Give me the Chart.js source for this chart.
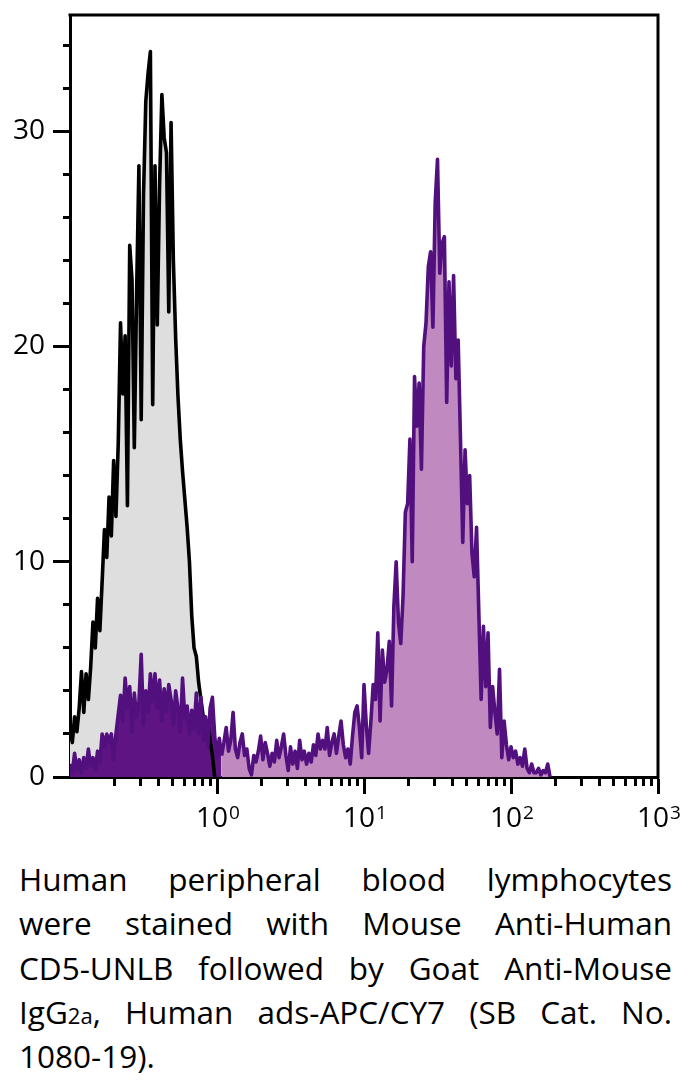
<!DOCTYPE html>
<html>
<head>
<meta charset="utf-8">
<script src="https://cdn.jsdelivr.net/npm/chart.js@4/dist/chart.umd.min.js"></script>
<style>
  html, body { margin: 0; padding: 0; background: #fff; }
  #wrap { position: relative; width: 686px; height: 1089px; overflow: hidden; }
  #c { position: absolute; left: 0; top: 0; }
  #caption {
    position: absolute; left: 19px; top: 857px; width: 653px;
    font-family: 'Open Sans', sans-serif; font-size: 31.5px; line-height: 44.3px; color: #000;
  }
  #caption .j { text-align: justify; text-align-last: justify; }
  #caption .l { text-align: left; }
  #caption .sm { font-size: 0.7em; line-height: 1; }
</style>
</head>
<body>
<div id="wrap">
  <canvas id="c" width="686" height="840"></canvas>
  <div id="caption">
    <div class="j">Human peripheral blood lymphocytes</div>
    <div class="j">were stained with Mouse Anti-Human</div>
    <div class="j">CD5-UNLB followed by Goat Anti-Mouse</div>
    <div class="j">IgG<span class="sm">2a</span>, Human ads-APC/CY7 (SB Cat. No.</div>
    <div class="l">1080-19).</div>
  </div>
</div>
<script>
// ---- Data (64 channels per decade starting at 0.1) ----
const CHANNELS_PER_DECADE = 64;
const FIRST_CHANNEL = 0.1;

// Isotype control (black outline, grey fill)
const isotypeCounts = [
  2.2, 1.6, 2.8, 2.1, 3.2, 4.9, 3.0, 4.8, 3.6, 5.1,
  7.2, 6.0, 8.3, 6.8, 9.1, 11.5, 10.2, 13.0, 11.2, 14.7,
  12.1, 15.5, 21.1, 17.8, 20.5, 12.6, 24.7, 23.1, 15.3, 22.5,
  28.4, 16.6, 27.0, 31.4, 32.7, 33.7, 17.3, 28.4, 21.0, 27.5,
  31.7, 29.7, 29.0, 21.6, 30.4, 24.0, 20.4, 17.7, 15.7, 14.2,
  12.9, 11.6, 10.0, 7.5, 6.0, 5.6, 4.4, 3.6, 2.8, 2.2,
  2.6, 1.7, 1.0, 0
];

// CD5 stained (purple)
const stainedCounts = [
  0.6, 0.2, 1.1, 0.3, 0.8, 0.2, 0.9, 0.4, 1.3, 0.5,
  0.9, 0.3, 1.2, 0.7, 2.0, 1.4, 2.0, 1.6, 2.0, 0.8,
  2.0, 2.9, 3.8, 2.6, 4.6, 3.2, 4.2, 2.1, 3.9, 2.8,
  3.5, 5.7, 2.4, 4.0, 3.0, 4.8, 3.5, 4.8, 3.2, 4.5,
  2.6, 4.1, 3.0, 4.3, 3.6, 2.4, 4.0, 3.2, 2.1, 4.6,
  2.7, 3.3, 2.0, 3.1, 2.2, 3.9, 2.0, 3.7, 1.7, 2.8,
  1.4, 3.2, 3.7, 1.9, 0.9, 1.8, 1.0, 1.6, 2.3, 1.2,
  1.7, 3.0, 1.3, 0.9, 1.6, 2.0, 1.0, 1.3, 0.4, 0.1,
  1.0, 0.7, 1.2, 1.9, 0.8, 1.6, 1.1, 0.5, 1.1, 0.7,
  1.7, 0.9, 1.4, 2.0, 1.0, 0.3, 1.4, 0.6, 1.2, 0.4,
  1.7, 0.8, 1.2, 0.6, 1.1, 0.7, 1.5, 1.0, 2.0, 1.3,
  1.7, 1.3, 2.3, 1.0, 1.6, 2.0, 1.1, 1.9, 2.6, 1.5,
  0.9, 1.3, 0.6, 1.9, 3.0, 3.3, 2.3, 0.9, 4.3, 2.4,
  1.1, 2.6, 4.3, 3.6, 6.7, 2.6, 5.9, 4.4, 5.0, 6.3,
  3.3, 7.9, 10.0, 7.2, 6.2, 8.4, 12.3, 12.7, 15.7, 10.0,
  18.6, 16.3, 18.3, 14.3, 20.0, 21.1, 23.7, 24.4, 20.9, 26.7,
  28.7, 23.4, 24.8, 25.1, 17.4, 23.0, 19.1, 23.3, 18.5, 20.3,
  15.7, 10.9, 15.2, 12.7, 14.0, 10.4, 9.3, 11.6, 7.6, 3.6,
  7.0, 4.2, 6.7, 2.3, 4.2, 3.0, 2.0, 5.0, 0.9, 2.6,
  1.5, 0.8, 1.4, 0.9, 1.2, 0.6, 0.9, 0.5, 1.3, 0.4,
  0.2, 0.6, 0.2, 0.2, 0.4, 0.1, 0.3, 0.2, 0.6, 0
];

// Axis ticks
const yTickValues = [0, 2, 4, 6, 8, 10, 12, 14, 16, 18, 20, 22, 24, 26, 28, 30, 32, 34];
const yLabelValues = [0, 10, 20, 30];
const xTickValues = [
  0.2, 0.3, 0.4, 0.5, 0.6, 0.7, 0.8, 0.9, 1,
  2, 3, 4, 5, 6, 7, 8, 9, 10,
  20, 30, 40, 50, 60, 70, 80, 90, 100,
  200, 300, 400, 500, 600, 700, 800, 900, 1000
];
const xLabelExponents = [0, 1, 2, 3];

// ---- Build ----
const channelValue = (i) => FIRST_CHANNEL * Math.pow(10, i / CHANNELS_PER_DECADE);
const toPoints = (arr) => arr.map((y, i) => ({ x: channelValue(i), y }));
const isDecade = (v) => Math.abs(Math.log10(v) - Math.round(Math.log10(v))) < 1e-6;

const PURPLE_LINE = '#52107F';
const PURPLE_FILL = '#C08AC0';
const PURPLE_DARK = '#5E1482';
const GREY_FILL = '#DEDEDE';
const FONT = "'Open Sans', sans-serif";

const frame = {
  id: 'frame',
  afterDraw(chart) {
    const { ctx, chartArea: a } = chart;
    ctx.save();
    ctx.strokeStyle = '#000';
    ctx.lineWidth = 3;
    ctx.beginPath();
    ctx.moveTo(a.left - 1.5, a.top);
    ctx.lineTo(a.right, a.top);
    ctx.lineTo(a.right, a.bottom + 1.5);
    ctx.stroke();
    ctx.restore();
  }
};

const powerLabels = {
  id: 'powerLabels',
  afterDraw(chart) {
    const { ctx } = chart;
    const xs = chart.scales.x;
    const base = chart.chartArea.bottom;
    ctx.save();
    ctx.fillStyle = '#000';
    ctx.textAlign = 'left';
    ctx.textBaseline = 'alphabetic';
    xLabelExponents.forEach((e) => {
      const px = xs.getPixelForValue(Math.pow(10, e));
      ctx.font = '28px ' + FONT;
      const wb = ctx.measureText('10').width;
      ctx.font = '19px ' + FONT;
      const ws = ctx.measureText(String(e)).width;
      const x0 = px - (wb + ws + 1) / 2 + 1;
      ctx.font = '28px ' + FONT;
      ctx.fillText('10', x0, base + 50);
      ctx.font = '19px ' + FONT;
      ctx.fillText(String(e), x0 + wb + 1, base + 41.5);
    });
    ctx.restore();
  }
};

new Chart(document.getElementById('c'), {
  type: 'line',
  data: {
    datasets: [
      {
        label: 'CD5',
        data: toPoints(stainedCounts),
        borderColor: PURPLE_LINE,
        backgroundColor: PURPLE_FILL,
        borderWidth: 3.6,
        fill: 'origin',
        segment: {
          backgroundColor: (c) => (c.p0.parsed.x < 1.05 ? PURPLE_DARK : PURPLE_FILL)
        }
      },
      {
        label: 'Isotype',
        data: toPoints(isotypeCounts),
        borderColor: '#000',
        backgroundColor: GREY_FILL,
        borderWidth: 3.6,
        fill: 'origin'
      }
    ]
  },
  options: {
    responsive: false,
    animation: false,
    devicePixelRatio: 1,
    layout: { padding: { left: 0, right: 28, top: 15, bottom: 0 } },
    elements: {
      point: { radius: 0, hoverRadius: 0 },
      line: { tension: 0, borderJoinStyle: 'round' }
    },
    plugins: {
      legend: { display: false },
      tooltip: { enabled: false },
      filler: { drawTime: 'beforeDatasetsDraw' }
    },
    scales: {
      x: {
        type: 'logarithmic',
        position: 'bottom',
        min: 0.1,
        max: 1000,
        afterBuildTicks: (s) => { s.ticks = xTickValues.map((v) => ({ value: v })); },
        afterFit: (s) => { s.height = 63; s.paddingLeft = 0; s.paddingRight = 0; },
        ticks: { autoSkip: false, maxRotation: 0, callback: () => '' },
        grid: {
          display: true,
          drawOnChartArea: false,
          drawTicks: true,
          tickLength: 17,
          tickWidth: 3,
          tickColor: '#000',
          tickBorderDash: (c) => (c.tick && isDecade(c.tick.value) ? [] : [7, 100])
        },
        border: { display: true, width: 3, color: '#000' }
      },
      y: {
        type: 'linear',
        min: 0,
        max: 35.4,
        afterBuildTicks: (s) => { s.ticks = yTickValues.map((v) => ({ value: v })); },
        afterFit: (s) => { s.width = 70; s.paddingTop = 0; s.paddingBottom = 0; },
        ticks: {
          autoSkip: false,
          padding: 8,
          color: '#000',
          font: { family: FONT, size: 28 },
          callback: (v) => (yLabelValues.includes(v) ? String(v) : '')
        },
        grid: {
          display: true,
          drawOnChartArea: false,
          drawTicks: true,
          tickLength: 17,
          tickWidth: 3,
          tickColor: '#000',
          tickBorderDash: (c) => (c.tick && yLabelValues.includes(c.tick.value) ? [] : [0, 10, 10, 100])
        },
        border: { display: true, width: 3, color: '#000' }
      }
    }
  },
  plugins: [frame, powerLabels]
});
</script>
</body>
</html>
